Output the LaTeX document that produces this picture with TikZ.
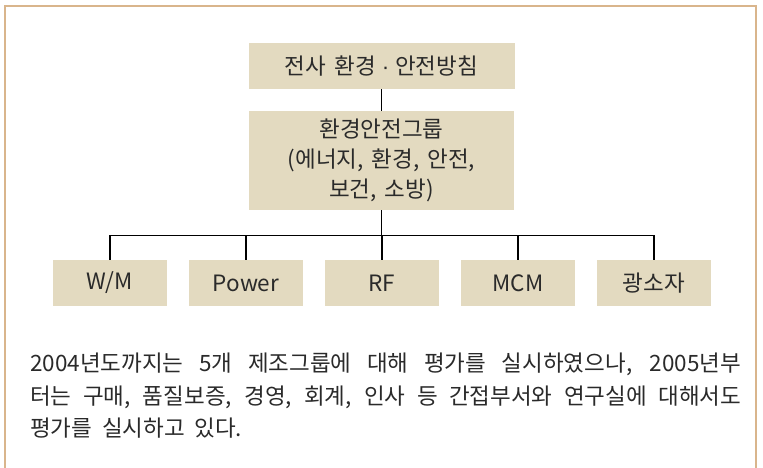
\documentclass[tikz,border=0pt]{standalone}
\usepackage{fontspec}
\setmainfont{Noto Sans CJK KR}[WordSpace={1.6,1,0.3}]
\newfontfamily\latinfont{Liberation Sans}
\definecolor{boxfill}{HTML}{E3DAC0}
\definecolor{frametan}{HTML}{D9B58C}
\definecolor{txt}{HTML}{2A2A2A}
\begin{document}
\begin{tikzpicture}[x=1pt,y=-1pt,
  orgbox/.style={fill=boxfill, draw=none, inner sep=0pt, align=center,
    font=\fontsize{22.5}{30}\selectfont, text=txt},
  leaf/.style={orgbox, minimum width=114pt, minimum height=46pt},
  conn/.style={draw=black, line width=1.1pt},
  para/.style={anchor=base west, inner sep=0pt, font=\fontsize{22.5}{32}\selectfont, text=txt}]
\useasboundingbox (0,0) rectangle (763,468);
\draw[frametan, line width=2pt] (5,470) -- (5,6) -- (756,6) -- (756,470);

\node[orgbox, minimum width=266pt, minimum height=46pt] (top) at (381.5,66)
  {전사 환경\hspace{6pt}{\latinfont ·}\hspace{6pt}안전방침};
\node[orgbox, minimum width=265pt, minimum height=99pt] (mid) at (381.5,160.3)
  {환경안전그룹\\(에너지, 환경, 안전,\\보건, 소방)};

\node[leaf] (wm) at (110,283) {W/M};
\node[leaf] (pw) at (246,283) {Power};
\node[leaf] (rf) at (382,283) {RF};
\node[leaf] (mcm) at (518,283) {MCM};
\node[leaf] (gs) at (654,283) {광소자};

\coordinate (bus) at (381.5,235.3);
\draw[conn] (top) -- (mid);
\draw[conn] (mid) -- (bus);
\draw[conn] (bus -| wm) -- (bus -| gs);
\foreach \n in {wm,pw,rf,mcm,gs} \draw[conn] (bus -| \n) -- (\n);

\node[para] (l1) at (30,371) {\makebox[711pt][s]{2004년도까지는 5개 제조그룹에 대해 평가를 실시하였으나, 2005년부}};
\node[para] (l2) at (30,404) {\makebox[711pt][s]{터는 구매, 품질보증, 경영, 회계, 인사 등 간접부서와 연구실에 대해서도}};
\node[para] (l3) at (30,436) {\makebox[212pt][s]{평가를 실시하고 있다.}};
\end{tikzpicture}
\end{document}
